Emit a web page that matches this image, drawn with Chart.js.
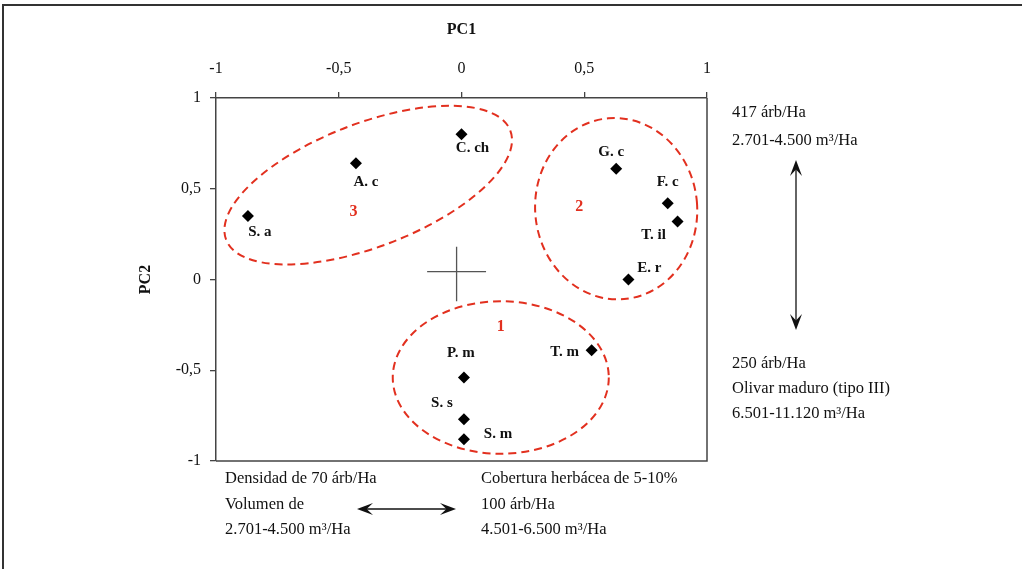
<!DOCTYPE html>
<html>
<head>
<meta charset="utf-8">
<script src="https://cdn.jsdelivr.net/npm/chart.js@4.4.1/dist/chart.umd.min.js"></script>
<style>
  body { margin: 0; background: #fff; }
</style>
</head>
<body>
<canvas id="chart" width="1022" height="569"></canvas>
<script>
// species scores on the first two principal components
const species = ['C. ch', 'A. c', 'S. a', 'G. c', 'F. c', 'T. il', 'E. r', 'T. m', 'P. m', 'S. s', 'S. m'];
const pc1 = [0.00, -0.43, -0.87, 0.63, 0.84, 0.88, 0.68, 0.53, 0.01, 0.01, 0.01];
const pc2 = [0.80, 0.64, 0.35, 0.61, 0.42, 0.32, 0.00, -0.39, -0.54, -0.77, -0.88];

const tickValues = [-1, -0.5, 0, 0.5, 1];
const tickLabels = ['-1', '-0,5', '0', '0,5', '1'];

// groups (dashed ellipses), in axis units
const groupNames = ['1', '2', '3'];
const groupX = [0.16, 0.63, -0.38];
const groupY = [-0.54, 0.39, 0.52];
const groupRx = [0.44, 0.33, 0.62];
const groupRy = [0.42, 0.50, 0.34];
const groupTilt = [0, -5, -21];
const groupLabelX = [0.16, 0.48, -0.44];
const groupLabelY = [-0.26, 0.40, 0.37];

// centre cross
const crossH = { x: [-0.14, 0.10], y: [0.043, 0.043] };
const crossV = { x: [-0.02, -0.02], y: [0.18, -0.12] };

// where each species name sits relative to its point (px)
const labelOffsets = [[11, 14], [10, 19], [12, 16], [-5, -17], [0, -21], [-24, 14], [21, -11], [-27, 2], [-3, -24], [-22, -16], [34, -5]];

const serif = "'Liberation Serif', 'DejaVu Serif', serif";
const red = '#e2301f';

const sideNotes = [
  { text: '417 árb/Ha', x: 732, y: 113 },
  { text: '2.701-4.500 m³/Ha', x: 732, y: 141 },
  { text: '250 árb/Ha', x: 732, y: 364 },
  { text: 'Olivar maduro (tipo III)', x: 732, y: 389 },
  { text: '6.501-11.120 m³/Ha', x: 732, y: 414 },
  { text: 'Densidad de 70 árb/Ha', x: 225, y: 479 },
  { text: 'Volumen de', x: 225, y: 505 },
  { text: '2.701-4.500 m³/Ha', x: 225, y: 530 },
  { text: 'Cobertura herbácea de 5-10%', x: 481, y: 479 },
  { text: '100 árb/Ha', x: 481, y: 505 },
  { text: '4.501-6.500 m³/Ha', x: 481, y: 530 }
];

function arrowHead(ctx, x, y, dx, dy) {
  // dx,dy: unit direction the head points to
  const len = 16, w = 6;
  ctx.beginPath();
  ctx.moveTo(x, y);
  ctx.lineTo(x - dx * len - dy * w, y - dy * len + dx * w);
  ctx.lineTo(x - dx * len * 0.6, y - dy * len * 0.6);
  ctx.lineTo(x - dx * len + dy * w, y - dy * len - dx * w);
  ctx.closePath();
  ctx.fill();
}

function doubleArrow(ctx, x1, y1, x2, y2) {
  const l = Math.hypot(x2 - x1, y2 - y1);
  const dx = (x2 - x1) / l, dy = (y2 - y1) / l;
  ctx.beginPath();
  ctx.moveTo(x1 + dx * 6, y1 + dy * 6);
  ctx.lineTo(x2 - dx * 6, y2 - dy * 6);
  ctx.stroke();
  arrowHead(ctx, x2, y2, dx, dy);
  arrowHead(ctx, x1, y1, -dx, -dy);
}

const decorations = {
  id: 'decorations',
  beforeDatasetsDraw(chart) {
    const { ctx, scales: { x, y } } = chart;
    ctx.save();
    ctx.strokeStyle = red;
    ctx.lineWidth = 2;
    ctx.setLineDash([8, 5]);
    groupNames.forEach((g, i) => {
      const cx = x.getPixelForValue(groupX[i]);
      const cy = y.getPixelForValue(groupY[i]);
      const rx = Math.abs(x.getPixelForValue(groupRx[i]) - x.getPixelForValue(0));
      const ry = Math.abs(y.getPixelForValue(groupRy[i]) - y.getPixelForValue(0));
      ctx.beginPath();
      ctx.ellipse(cx, cy, rx, ry, groupTilt[i] * Math.PI / 180, 0, Math.PI * 2);
      ctx.stroke();
    });
    ctx.setLineDash([]);
    ctx.fillStyle = red;
    ctx.font = 'bold 16px ' + serif;
    ctx.textAlign = 'center';
    ctx.textBaseline = 'middle';
    groupNames.forEach((g, i) => {
      ctx.fillText(g, x.getPixelForValue(groupLabelX[i]), y.getPixelForValue(groupLabelY[i]));
    });
    ctx.restore();
  },
  afterDatasetsDraw(chart) {
    const { ctx, chartArea: a } = chart;
    const meta = chart.getDatasetMeta(0);
    ctx.save();
    // box closing the right and bottom sides
    ctx.strokeStyle = '#444';
    ctx.lineWidth = 1.5;
    ctx.beginPath();
    ctx.moveTo(a.right, a.top);
    ctx.lineTo(a.right, a.bottom);
    ctx.lineTo(a.left, a.bottom);
    ctx.stroke();

    ctx.fillStyle = '#111';
    ctx.font = 'bold 15px ' + serif;
    ctx.textAlign = 'center';
    ctx.textBaseline = 'middle';
    meta.data.forEach((pt, i) => {
      ctx.fillText(species[i], pt.x + labelOffsets[i][0], pt.y + labelOffsets[i][1]);
    });

    // notes and arrows outside the plot
    ctx.font = '16.5px ' + serif;
    ctx.textAlign = 'left';
    sideNotes.forEach(n => ctx.fillText(n.text, n.x, n.y));
    ctx.strokeStyle = '#111';
    ctx.lineWidth = 1.3;
    doubleArrow(ctx, 796, 160, 796, 330);
    doubleArrow(ctx, 357, 509, 456, 509);

    // page frame
    ctx.strokeStyle = '#333';
    ctx.lineWidth = 2;
    ctx.beginPath();
    ctx.moveTo(3, 569);
    ctx.lineTo(3, 5);
    ctx.lineTo(1022, 5);
    ctx.stroke();
    ctx.restore();
  }
};

const axisCommon = {
  type: 'linear',
  min: -1,
  max: 1,
  afterBuildTicks: s => { s.ticks = tickValues.map(v => ({ value: v })); },
  grid: { drawOnChartArea: false, drawTicks: true, tickLength: 6, color: '#444', lineWidth: 1.3 },
  border: { display: true, color: '#444', width: 1.5 }
};

const ctx = document.getElementById('chart').getContext('2d');
new Chart(ctx, {
  type: 'scatter',
  data: {
    datasets: [
      {
        label: 'Especies',
        data: species.map((s, i) => ({ x: pc1[i], y: pc2[i] })),
        pointStyle: 'rectRot',
        pointRadius: 6,
        pointHoverRadius: 6,
        backgroundColor: '#000',
        borderColor: '#000',
        borderWidth: 0
      },
      {
        data: crossH.x.map((v, i) => ({ x: v, y: crossH.y[i] })),
        showLine: true, pointRadius: 0, borderColor: '#555', borderWidth: 1.3
      },
      {
        data: crossV.x.map((v, i) => ({ x: v, y: crossV.y[i] })),
        showLine: true, pointRadius: 0, borderColor: '#555', borderWidth: 1.3
      }
    ]
  },
  options: {
    responsive: false,
    animation: false,
    layout: { padding: { left: 0, top: 0, right: 315, bottom: 108 } },
    plugins: { legend: { display: false }, tooltip: { enabled: false } },
    scales: {
      x: Object.assign({}, axisCommon, {
        position: 'top',
        afterFit: s => { s.height = 98; },
        ticks: {
          padding: 14, color: '#111', font: { family: serif, size: 16 },
          callback: (v, i) => tickLabels[i]
        },
        title: { display: true, text: 'PC1', color: '#111', font: { family: serif, size: 16, weight: 'bold' }, padding: { top: 20 } }
      }),
      y: Object.assign({}, axisCommon, {
        position: 'left',
        afterFit: s => { s.width = 216; },
        ticks: {
          padding: 9, color: '#111', font: { family: serif, size: 16 },
          callback: (v, i) => tickLabels[i]
        },
        title: { display: true, text: 'PC2', color: '#111', font: { family: serif, size: 16, weight: 'bold' }, padding: { top: 136 } }
      })
    }
  },
  plugins: [decorations]
});
</script>
</body>
</html>
